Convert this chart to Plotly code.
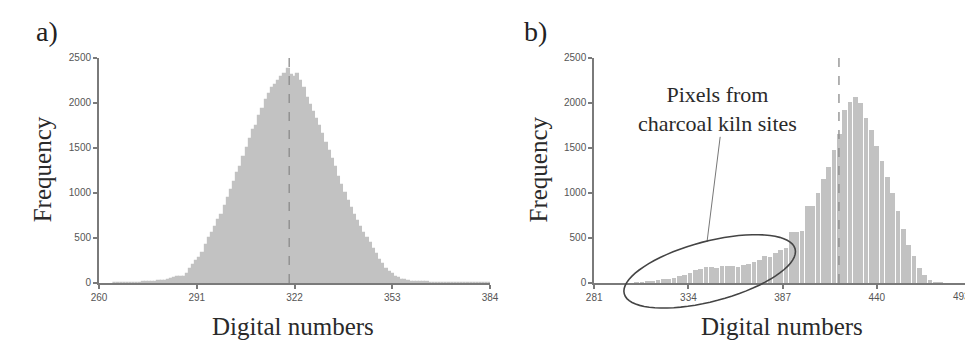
import math
import plotly.graph_objects as go

# ---------------- data ----------------
# Panel a: histogram of digital numbers (bin width 1)
a_start = 265
a_counts = [
    0, 1, 1, 2, 2, 3, 3, 4, 5, 6,            # 265-274
    8, 10, 12, 15, 18, 22, 26, 32, 40, 55,   # 275-284
    62, 68, 72, 95, 160, 200, 240, 280, 330, 420,   # 285-294
    500, 560, 620, 700, 760, 850, 940, 1030, 1120, 1220,  # 295-304
    1290, 1400, 1500, 1600, 1700, 1740, 1850, 1930, 2030, 2100,  # 305-314
    2170, 2200, 2250, 2290, 2320, 2380, 2310, 2290, 2320, 2250,  # 315-324
    2170, 2060, 1980, 1900, 1820, 1740, 1650, 1560, 1470, 1380,  # 325-334
    1290, 1180, 1090, 1000, 910, 830, 760, 690, 620, 560,        # 335-344
    500, 440, 380, 320, 260, 210, 160, 120, 95, 70,              # 345-354
    50, 38, 28, 20, 15, 12, 10, 8, 7, 6,                         # 355-364
    5, 5, 4, 4, 3, 3, 3, 2, 2, 2,                                # 365-374
    2, 1, 1, 1, 1, 1, 0, 0, 0, 0,                                # 375-384
]
a_bins = [a_start + i for i in range(len(a_counts))]
a_ticks = [260, 291, 322, 353, 384]
a_mean = 320.3

# Panel b: histogram of digital numbers (bin width 3)
b_bins = [305, 308, 311, 314, 317, 320, 323, 326, 329, 332,
          335, 338, 341, 344, 347, 350, 353, 356, 359, 362,
          365, 368, 371, 374, 377, 380, 383, 386, 389, 392,
          395, 398, 401, 404, 407, 410, 413, 416, 419, 422,
          425, 428, 431, 434, 437, 440, 443, 446, 449, 452,
          455, 458, 461, 464, 467, 470, 473, 476]
b_counts = [5, 8, 12, 18, 30, 40, 45, 55, 75, 85,
            110, 140, 150, 175, 180, 170, 185, 190, 185, 180,
            200, 210, 235, 255, 300, 290, 330, 370, 390, 565,
            570, 580, 850, 860, 1000, 1150, 1290, 1480, 1660, 1920,
            2010, 2070, 2000, 1830, 1700, 1520, 1360, 1180, 1000, 800,
            600, 420, 300, 170, 85, 30, 8, 2]
b_ticks = [281, 334, 387, 440, 493]
b_mean = 418.7

y_ticks = [0, 500, 1000, 1500, 2000, 2500]

# ---------------- layout geometry ----------------
W, H = 973, 340
BAR = "#c2c2c2"
AX = "#7a7a7a"


def px(x):
    return x / W


def py(y):
    return 1 - y / H


fig = go.Figure()
fig.add_trace(go.Bar(x=a_bins, y=a_counts, width=1.0, marker=dict(color=BAR, line=dict(color=BAR, width=1.2)),
                     xaxis="x", yaxis="y", showlegend=False))
fig.add_trace(go.Bar(x=b_bins, y=b_counts, width=2.65, marker=dict(color=BAR, line=dict(width=0)),
                     xaxis="x2", yaxis="y2", showlegend=False))

tickfont = dict(family="Liberation Sans, Arial, sans-serif", size=10, color="#555")
ydom = [py(279), py(46.5)]
common_axis = dict(showgrid=False, zeroline=False, showline=True, linecolor=AX, linewidth=2,
                   ticks="outside", ticklen=4, tickwidth=1.5, tickcolor=AX, tickfont=tickfont)

fig.update_layout(
    width=W, height=H, margin=dict(l=0, r=0, t=0, b=0),
    paper_bgcolor="white", plot_bgcolor="white", bargap=0,
    xaxis=dict(domain=[px(84.5), px(482.5)], range=[260, 384], tickvals=a_ticks, anchor="y", **common_axis),
    yaxis=dict(domain=ydom, range=[0, 2500], tickvals=y_ticks, anchor="x", **common_axis),
    xaxis2=dict(domain=[px(588.5), px(972)], range=[281, 493], tickvals=b_ticks,
                ticktext=[str(t) for t in b_ticks[:-1]] + [""], anchor="y2", **common_axis),
    yaxis2=dict(domain=ydom, range=[0, 2500], tickvals=y_ticks, anchor="x2", **common_axis),
)

# mean dashed lines
for xr, yr, m in (("x", "y", a_mean), ("x2", "y2", b_mean)):
    fig.add_shape(type="line", xref=xr, yref=yr, x0=m, x1=m, y0=0, y1=2500,
                  line=dict(color="#8a8a8a", width=1.3, dash="dash"))

serif = "Liberation Serif, Times New Roman, serif"
ann = []
for cx in (27, 532):
    ann.append(dict(text="Frequency", x=px(cx), y=py(162), textangle=-90, font=dict(family=serif, size=25, color="#2a2a2a")))
for cx in (282, 780):
    ann.append(dict(text="Digital numbers", x=px(cx), y=py(324), font=dict(family=serif, size=25, color="#2a2a2a")))
ann.append(dict(text="a)", x=px(32), y=py(19), font=dict(family=serif, size=28, color="#222")))
ann.append(dict(text="b)", x=px(529), y=py(19), font=dict(family=serif, size=28, color="#222")))
ann.append(dict(text="Pixels from<br>charcoal kiln sites", x=px(714), y=py(99),
                font=dict(family=serif, size=22, color="#2a2a2a")))
for a in ann:
    a.update(xref="paper", yref="paper", showarrow=False, xanchor="center", yanchor="middle")
    fig.add_annotation(**a)

# last tick label of panel b, kept inside the page (it sits on the right edge)
fig.add_annotation(text=str(b_ticks[-1]), xref="paper", yref="paper", x=1.0, y=py(293),
                   xanchor="right", yanchor="middle", showarrow=False, font=tickfont)

# leader line
fig.add_shape(type="line", xref="paper", yref="paper", x0=px(716.7), y0=py(128), x1=px(703.3), y1=py(236.7),
              line=dict(color="#777", width=1))

# ellipse around kiln pixels
ecx, ecy, ea, eb, th = 706, 267, 90, 31, math.radians(15)
pts = []
for k in range(73):
    t = 2 * math.pi * k / 72
    ex = ea * math.cos(t)
    ey = eb * math.sin(t)
    X = ecx + ex * math.cos(th) + ey * math.sin(th)
    Y = ecy - ex * math.sin(th) + ey * math.cos(th)
    pts.append(f"{px(X):.5f},{py(Y):.5f}")
path = "M " + " L ".join(pts) + " Z"
fig.add_shape(type="path", xref="paper", yref="paper", path=path, line=dict(color="#444", width=1.6))

fig.write_html("out.html")
